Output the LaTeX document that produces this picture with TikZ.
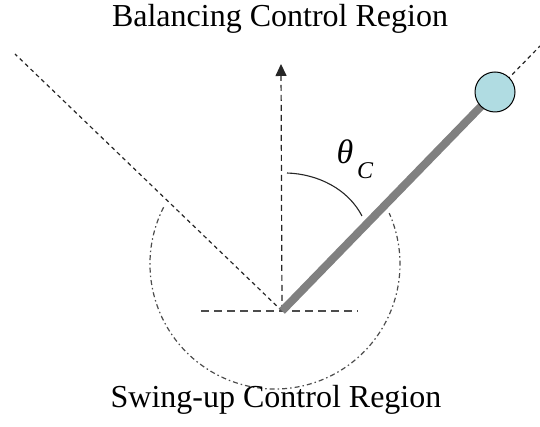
\documentclass[tikz,border=0pt]{standalone}
\usepackage{fontspec}
\setmainfont{Liberation Serif}
\usetikzlibrary{arrows.meta,calc}
\begin{document}
\begin{tikzpicture}[x=1pt,y=1pt,
  guide/.style={line width=1.2pt, dash pattern=on 4pt off 3.5pt, black!85},
  axisdash/.style={line width=1.2pt, dash pattern=on 6pt off 4pt, black!85},
  floor/.style={line width=1.2pt, dash pattern=on 8pt off 5pt, black!70},
  region/.style={line width=1.2pt, dash pattern=on 5pt off 3pt on 1.5pt off 3pt, black!70},
  rod/.style={line width=8pt, black!50},
  bobstyle/.style={circle, draw=black, line width=1pt, fill={rgb,255:red,176;green,220;blue,226}, minimum size=40pt, inner sep=0pt},
  label/.style={font=\fontsize{32}{36}\selectfont, inner sep=0pt}
]
\useasboundingbox (0,0) rectangle (540,427);
\coordinate (P) at (282,116);
\coordinate (L) at (15,373);
\coordinate (A) at (281,363);
\coordinate (H1) at (201,116);
\coordinate (H2) at (358,116);
\coordinate (R) at (540,381);
\coordinate (C0) at (275,163);
\coordinate (T1) at (287,254);
\coordinate (T2) at (362,211);
\coordinate (Bc) at (495,335);
% region circle (lower part)
\draw[region] ($(C0)+(153:125pt)$) arc[start angle=153, end angle=384, radius=125pt];
% guides
\draw[guide] (P) -- (L);
\draw[guide] (P) -- (R);
\draw[floor] (H1) -- (H2);
\draw[axisdash, -{Triangle[width=11pt,length=12pt]}] (P) -- (A);
% angle arc
\draw[line width=1.1pt, black!85] (T1) .. controls (318,253) and (348,238) .. (T2);
% rod and bob
\draw[rod] (P) -- (Bc);
\node[bobstyle] (Bob) at (Bc) {};
% labels
\node[font=\fontsize{34}{36}\selectfont\itshape, inner sep=0pt] (th) at (345,275) {θ};
\node[font=\fontsize{24}{26}\selectfont\itshape, inner sep=0pt] (thc) at (365,256) {C};
\node[label, anchor=base] (top) at (280,400) {Balancing Control Region};
\node[label, anchor=base] (bot) at (276,19) {Swing-up Control Region};
\end{tikzpicture}
\end{document}
